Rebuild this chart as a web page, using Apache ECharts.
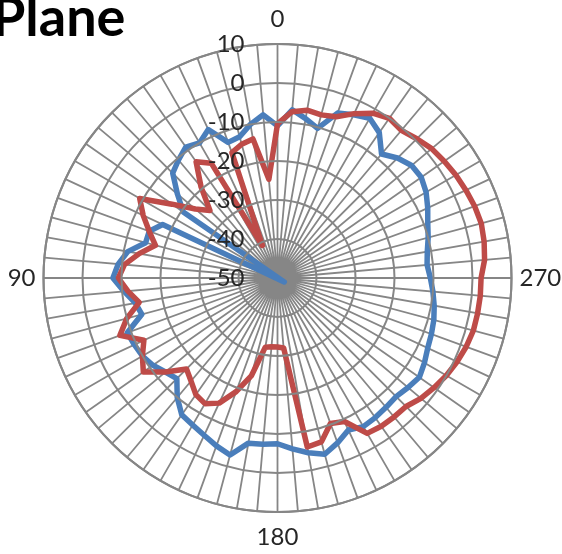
<!DOCTYPE html>
<html><head><meta charset="utf-8">
<script src="https://cdn.jsdelivr.net/npm/echarts@6/dist/echarts.min.js"></script>
<style>html,body{margin:0;padding:0;background:#fff}#c{width:562px;height:554px}</style>
</head><body><div id="c"></div>
<script>
const titleText = 'Plane';
const angleCategories = [0,5,10,15,20,25,30,35,40,45,50,55,60,65,70,75,80,85,
  90,95,100,105,110,115,120,125,130,135,140,145,150,155,160,165,170,175,
  180,185,190,195,200,205,210,215,220,225,230,235,240,245,250,255,260,265,
  270,275,280,285,290,295,300,305,310,315,320,325,330,335,340,345,350,355];
const shownAngleLabels = [0,90,180,270];
const radiusMin = -50, radiusMax = 10, radiusStep = 10;

const blueValues = [-11,-8,-10,-12.5,-13,-8,-10,-9,-10.5,-12,-16.5,-20.5,-52,-17.5,-15,-15,-11,-9,
  -7.8,-10.5,-13,-14,-9,-9.5,-10,-11,-12.5,-13.5,-10,-7.2,-6.5,-5.5,-4.2,-3,-7,-7.2,
  -7.5,-6,-4.5,-3.2,-5,-7,-6,-6.3,-6.7,-7,-6.3,-5.6,-6.5,-7.5,-8,-8.5,-9.2,-10,
  -10.8,-11.5,-11,-10,-9,-7.5,-6,-5,-5.1,-6.5,-8.5,-4.5,-2.7,-3.8,-5,-10.3,-8.5,-6.7];
const redValues = [-10.5,-24.6,-13.8,-14.5,-15.8,-40.8,-16,-13.6,-19.5,-25.5,-22.5,-17,-9.2,-12,-15,-17.6,-14,-10.6,
  -9.2,-11.5,-14,-10,-7,-12.2,-10,-8,-12.5,-17,-15.5,-13.5,-12.8,-14.6,-19,-24,-32,-32.3,
  -32.3,-32,-6,-6.5,-10.3,-9.4,-4,-3.6,-3.5,-3.4,-2,-1,0,0.8,1.5,2,2.1,2.2,
  2.2,3.3,3.8,4.1,3.8,3.3,2.8,2.2,1.6,0.5,-0.6,0,-1.2,-3.5,-6,-6.7,-6.3,-7.2];

// closed loop: each value paired with its angle, then back to the first value at 360
function closedLoop(values) {
  const d = values.map(function(v, i){ return [v, angleCategories[i]]; });
  d.push([values[0], 360]);
  return d;
}

const gridColor = '#868686';
const textColor = '#262626';
const chart = echarts.init(document.getElementById('c'), null, {renderer:'canvas'});
chart.setOption({
  animation: false,
  backgroundColor: '#fff',
  title: {
    text: titleText, left: -13, top: -13,
    textStyle: {fontFamily: 'Lato', fontWeight: 'bold', fontSize: 54, color: '#000'}
  },
  polar: {center: [277.5, 278], radius: 234},
  angleAxis: {
    type: 'value', min: 0, max: 360, interval: 5, startAngle: 90, clockwise: false,
    axisLine: {show: true, lineStyle: {color: gridColor, width: 2}},
    axisTick: {show: false},
    axisLabel: {
      formatter: function(v){ return shownAngleLabels.indexOf(v) >= 0 ? String(v) : ''; },
      margin: 8, padding: [5, 0, 5, 0], fontFamily: 'Lato', fontSize: 24, color: textColor
    },
    splitLine: {show: true, lineStyle: {color: gridColor, width: 1.8}}
  },
  radiusAxis: {
    type: 'value', min: radiusMin, max: radiusMax, interval: radiusStep, z: 10,
    axisLine: {show: false}, axisTick: {show: false},
    axisLabel: {margin: 33, fontFamily: 'Lato', fontSize: 24, color: textColor},
    splitLine: {show: true, lineStyle: {color: gridColor, width: 2}}
  },
  series: [
    {type: 'line', coordinateSystem: 'polar', data: closedLoop(blueValues), showSymbol: false, symbol: 'none',
     lineStyle: {color: '#4A7EBB', width: 5.5, join: 'round', cap: 'round'}, z: 3, clip: false},
    {type: 'line', coordinateSystem: 'polar', data: closedLoop(redValues), showSymbol: false, symbol: 'none',
     lineStyle: {color: '#BE4B48', width: 5.5, join: 'round', cap: 'round'}, z: 4, clip: false}
  ]
});
</script></body></html>
